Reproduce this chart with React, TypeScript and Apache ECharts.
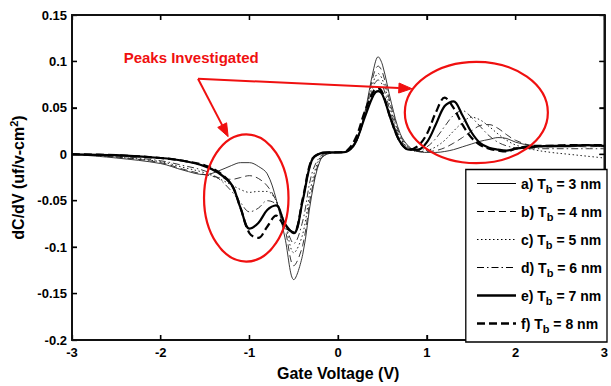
import React, { useEffect, useRef } from "react";
import * as echarts from "echarts";

const xVals = [-3, -2.5, -2, -1.75, -1.5, -1.35, -1.2, -1.1, -1.0, -0.9, -0.8, -0.7, -0.6, -0.5, -0.4, -0.3, -0.2, -0.1, 0, 0.1, 0.2, 0.3, 0.4, 0.45, 0.5, 0.6, 0.7, 0.8, 0.9, 1.0, 1.1, 1.2, 1.3, 1.4, 1.5, 1.6, 1.7, 1.8, 1.9, 2.0, 2.2, 2.4, 2.6, 2.8, 3.0];

const curveA = [0, -0.004, -0.01, -0.017, -0.022, -0.018, -0.012, -0.009, -0.009, -0.013, -0.021, -0.048, -0.09, -0.135, -0.108, -0.045, -0.006, 0.001, 0.002, 0.003, 0.012, 0.045, 0.092, 0.105, 0.096, 0.055, 0.022, 0.008, 0.003, 0.002, 0.002, 0.003, 0.005, 0.008, 0.011, 0.014, 0.016, 0.018, 0.017, 0.013, 0.009, 0.008, 0.008, 0.009, 0.008];
const curveB = [0, -0.003, -0.009, -0.016, -0.022, -0.025, -0.027, -0.025, -0.023, -0.026, -0.034, -0.05, -0.08, -0.12, -0.098, -0.04, -0.005, 0.001, 0.002, 0.003, 0.012, 0.043, 0.086, 0.095, 0.088, 0.05, 0.02, 0.007, 0.003, 0.003, 0.004, 0.007, 0.012, 0.018, 0.025, 0.031, 0.032, 0.028, 0.021, 0.015, 0.009, 0.008, 0.009, 0.008, 0.009];
const curveC = [0, -0.003, -0.008, -0.014, -0.02, -0.026, -0.033, -0.038, -0.041, -0.04, -0.04, -0.05, -0.075, -0.106, -0.086, -0.032, -0.003, 0.001, 0.002, 0.003, 0.013, 0.042, 0.079, 0.087, 0.08, 0.046, 0.018, 0.006, 0.003, 0.004, 0.008, 0.015, 0.025, 0.034, 0.04, 0.037, 0.03, 0.022, 0.015, 0.01, 0.005, 0.002, 0.0, -0.002, -0.004];
const curveD = [0, -0.002, -0.007, -0.012, -0.018, -0.026, -0.04, -0.052, -0.062, -0.058, -0.05, -0.054, -0.075, -0.096, -0.072, -0.022, -0.002, 0.001, 0.002, 0.003, 0.014, 0.042, 0.074, 0.08, 0.074, 0.042, 0.016, 0.006, 0.004, 0.008, 0.017, 0.03, 0.042, 0.047, 0.04, 0.03, 0.02, 0.013, 0.009, 0.007, 0.006, 0.006, 0.006, 0.006, 0.006];
const curveE = [0, -0.001, -0.004, -0.007, -0.013, -0.02, -0.033, -0.058, -0.08, -0.074, -0.06, -0.055, -0.075, -0.085, -0.05, -0.007, 0.001, 0.002, 0.002, 0.003, 0.014, 0.04, 0.064, 0.068, 0.064, 0.036, 0.013, 0.005, 0.005, 0.013, 0.032, 0.052, 0.057, 0.042, 0.024, 0.012, 0.007, 0.005, 0.004, 0.006, 0.008, 0.009, 0.009, 0.01, 0.009];
const curveF = [0, -0.001, -0.004, -0.007, -0.012, -0.019, -0.033, -0.058, -0.085, -0.09, -0.078, -0.066, -0.078, -0.084, -0.048, -0.006, 0.001, 0.002, 0.002, 0.004, 0.018, 0.046, 0.068, 0.071, 0.066, 0.036, 0.013, 0.005, 0.009, 0.022, 0.045, 0.061, 0.05, 0.032, 0.018, 0.01, 0.006, 0.004, 0.003, 0.006, 0.009, 0.009, 0.01, 0.01, 0.01];

const seriesKeys = ["a", "b", "c", "d", "e", "f"];
const thicknessNm = ["3", "4", "5", "6", "7", "8"];
const curves = [curveA, curveB, curveC, curveD, curveE, curveF];

const xTicks = [-3, -2, -1, 0, 1, 2, 3];
const yTicks = [-0.2, -0.15, -0.1, -0.05, 0, 0.05, 0.1, 0.15];

// annotation anchors in data coordinates
const annotationText = "Peaks Investigated";
const annotationTextAt = [-1.657, 0.1039];
const arrowFrom = [-1.58, 0.0814];
const arrowTips = [[-1.24, 0.019], [0.83, 0.0707]];
const ellipseCenters = [[-1.036, -0.047], [1.557, 0.045]];
const ellipseRadii = [[0.476, 0.0685], [0.806, 0.0546]];

const FONT = "'Liberation Sans', Arial, Helvetica, sans-serif";

const lineTypes: any[] = ["solid", [7, 4], [1.5, 2.5], [7, 3, 1.5, 3], "solid", [8, 4]];
const lineWidths = [0.9, 0.9, 1, 0.9, 2.2, 2.2];
const lineColors = ["#222", "#222", "#222", "#222", "#000", "#000"];

function makeAxis(kind: "x" | "y", position: string, withLabels: boolean, extra: any) {
  const ticks = kind === "x" ? xTicks : yTicks;
  return {
    type: "value",
    position,
    min: ticks[0],
    max: ticks[ticks.length - 1],
    interval: kind === "x" ? 1 : 0.05,
    axisLine: { show: true, onZero: false, lineStyle: { color: "#000", width: 1.8 } },
    axisTick: { show: true, inside: true, length: 5, lineStyle: { color: "#000", width: 1.3 } },
    splitLine: { show: false },
    axisLabel: withLabels
      ? { show: true, color: "#000", fontFamily: FONT, fontWeight: "bold", fontSize: 13, margin: kind === "x" ? 6 : 5 }
      : { show: false },
    ...extra,
  };
}

export default function App() {
  const ref = useRef<HTMLDivElement>(null);
  useEffect(() => {
    const chart = echarts.init(ref.current!, null, { renderer: "svg" });
    chart.setOption({
      animation: false,
      backgroundColor: "#fff",
      grid: { left: 70, right: 4, top: 15, bottom: 44, containLabel: false },
      xAxis: [
        makeAxis("x", "bottom", true, {
          name: "Gate Voltage (V)",
          nameLocation: "middle",
          nameGap: 25,
          nameTextStyle: { color: "#000", fontFamily: FONT, fontWeight: "bold", fontSize: 16 },
        }),
        makeAxis("x", "top", false, {}),
      ],
      yAxis: [
        makeAxis("y", "left", true, {
          name: "{n|dC/dV (uf/v-cm}{s|2}{n|)}",
          nameLocation: "middle",
          nameGap: 44,
          nameTextStyle: {
            color: "#000",
            rich: {
              n: { fontFamily: FONT, fontWeight: "bold", fontSize: 16, color: "#000" },
              s: { fontFamily: FONT, fontWeight: "bold", fontSize: 11, color: "#000", padding: [0, 0, 9, 0] },
            },
          },
        }),
        makeAxis("y", "right", false, {}),
      ],
      legend: {
        orient: "vertical",
        right: 4,
        bottom: 44,
        z: 30,
        padding: [7, 5, 8, 10],
        itemGap: 10.5,
        itemWidth: 39,
        itemHeight: 14,
        backgroundColor: "#fff",
        borderColor: "#000",
        borderWidth: 1.3,
        borderRadius: 0,
        itemStyle: { opacity: 0 },
        data: seriesKeys.map((k, i) => ({
          name: k,
          itemStyle: { opacity: 0 },
          lineStyle: { color: "#000", width: lineWidths[i] + 0.2, type: lineTypes[i] },
        })),
        formatter: (name: string) => {
          const i = seriesKeys.indexOf(name);
          return `{n|${name}) T}{s|b}{n| = ${thicknessNm[i]} nm}`;
        },
        textStyle: {
          color: "#000",
          rich: {
            n: { fontFamily: FONT, fontWeight: "bold", fontSize: 14, color: "#000" },
            s: { fontFamily: FONT, fontWeight: "bold", fontSize: 11, color: "#000", padding: [10, 0, 0, 0] },
          },
        },
      },
      series: seriesKeys.map((k, i) => ({
        name: k,
        type: "line",
        xAxisIndex: 0,
        yAxisIndex: 0,
        data: xVals.map((x, j) => [x, curves[i][j]]),
        symbol: "none",
        smooth: 0.35,
        z: i >= 4 ? 4 : 3,
        itemStyle: { color: "#000" },
        lineStyle: { color: lineColors[i], width: lineWidths[i], type: lineTypes[i] },
      })),
    });

    const toPx = (p: number[]) => chart.convertToPixel({ xAxisIndex: 0, yAxisIndex: 0 }, p) as number[];
    const red = "#f01010";
    const graphics: any[] = [];

    // plot frame and inside ticks on all four sides, placed through the axis scales
    const x0 = xTicks[0], x1 = xTicks[xTicks.length - 1];
    const y0 = yTicks[0], y1 = yTicks[yTicks.length - 1];
    const tl = toPx([x0, y1]);
    const br = toPx([x1, y0]);
    const frameStyle = { stroke: "#111", lineWidth: 1.8 };
    graphics.push({ type: "line", shape: { x1: tl[0], y1: tl[1], x2: br[0], y2: tl[1] }, style: frameStyle, z: 1 });
    graphics.push({ type: "line", shape: { x1: br[0], y1: tl[1], x2: br[0], y2: br[1] }, style: frameStyle, z: 1 });
    graphics.push({ type: "line", shape: { x1: tl[0], y1: br[1], x2: br[0], y2: br[1] }, style: frameStyle, z: 1 });
    graphics.push({ type: "line", shape: { x1: tl[0], y1: tl[1], x2: tl[0], y2: br[1] }, style: frameStyle, z: 1 });
    const TL = 5;
    xTicks.slice(1, -1).forEach((t) => {
      const pb = toPx([t, y0]);
      const pt = toPx([t, y1]);
      graphics.push({ type: "line", shape: { x1: pb[0], y1: pb[1], x2: pb[0], y2: pb[1] - TL }, style: { stroke: "#000", lineWidth: 1.3 }, z: 1 });
      graphics.push({ type: "line", shape: { x1: pt[0], y1: pt[1], x2: pt[0], y2: pt[1] + TL }, style: { stroke: "#000", lineWidth: 1.3 }, z: 1 });
    });
    yTicks.slice(1, -1).forEach((t) => {
      const pl = toPx([x0, t]);
      const pr = toPx([x1, t]);
      graphics.push({ type: "line", shape: { x1: pl[0], y1: pl[1], x2: pl[0] + TL, y2: pl[1] }, style: { stroke: "#000", lineWidth: 1.3 }, z: 1 });
      graphics.push({ type: "line", shape: { x1: pr[0], y1: pr[1], x2: pr[0] - TL, y2: pr[1] }, style: { stroke: "#000", lineWidth: 1.3 }, z: 1 });
    });

    ellipseCenters.forEach((c, i) => {
      const pc = toPx(c);
      const pr = toPx([c[0] + ellipseRadii[i][0], c[1] + ellipseRadii[i][1]]);
      graphics.push({
        type: "ellipse",
        shape: { cx: pc[0], cy: pc[1], rx: Math.abs(pr[0] - pc[0]), ry: Math.abs(pr[1] - pc[1]) },
        style: { fill: "none", stroke: red, lineWidth: 2.2 },
        z: 10,
      });
    });
    const pf = toPx(arrowFrom);
    arrowTips.forEach((t) => {
      const pt = toPx(t);
      const dx = pt[0] - pf[0];
      const dy = pt[1] - pf[1];
      const len = Math.hypot(dx, dy);
      const ux = dx / len;
      const uy = dy / len;
      const L = 13;
      const W = 5;
      const bx = pt[0] - ux * L;
      const by = pt[1] - uy * L;
      graphics.push({
        type: "line",
        shape: { x1: pf[0], y1: pf[1], x2: bx, y2: by },
        style: { stroke: red, lineWidth: 2 },
        z: 10,
      });
      graphics.push({
        type: "polygon",
        shape: { points: [[pt[0], pt[1]], [bx - uy * W, by + ux * W], [bx + uy * W, by - ux * W]] },
        style: { fill: red, stroke: red, lineWidth: 1 },
        z: 10,
      });
    });
    const ptx = toPx(annotationTextAt);
    graphics.push({
      type: "text",
      x: ptx[0],
      y: ptx[1],
      style: {
        text: annotationText,
        fill: red,
        font: `bold 15px ${FONT}`,
        align: "center",
        verticalAlign: "middle",
      },
      z: 10,
    });
    chart.setOption({ graphic: graphics });

    return () => chart.dispose();
  }, []);
  return <div ref={ref} style={{ position: "fixed", left: 0, top: 0, width: 611, height: 386 }} />;
}
